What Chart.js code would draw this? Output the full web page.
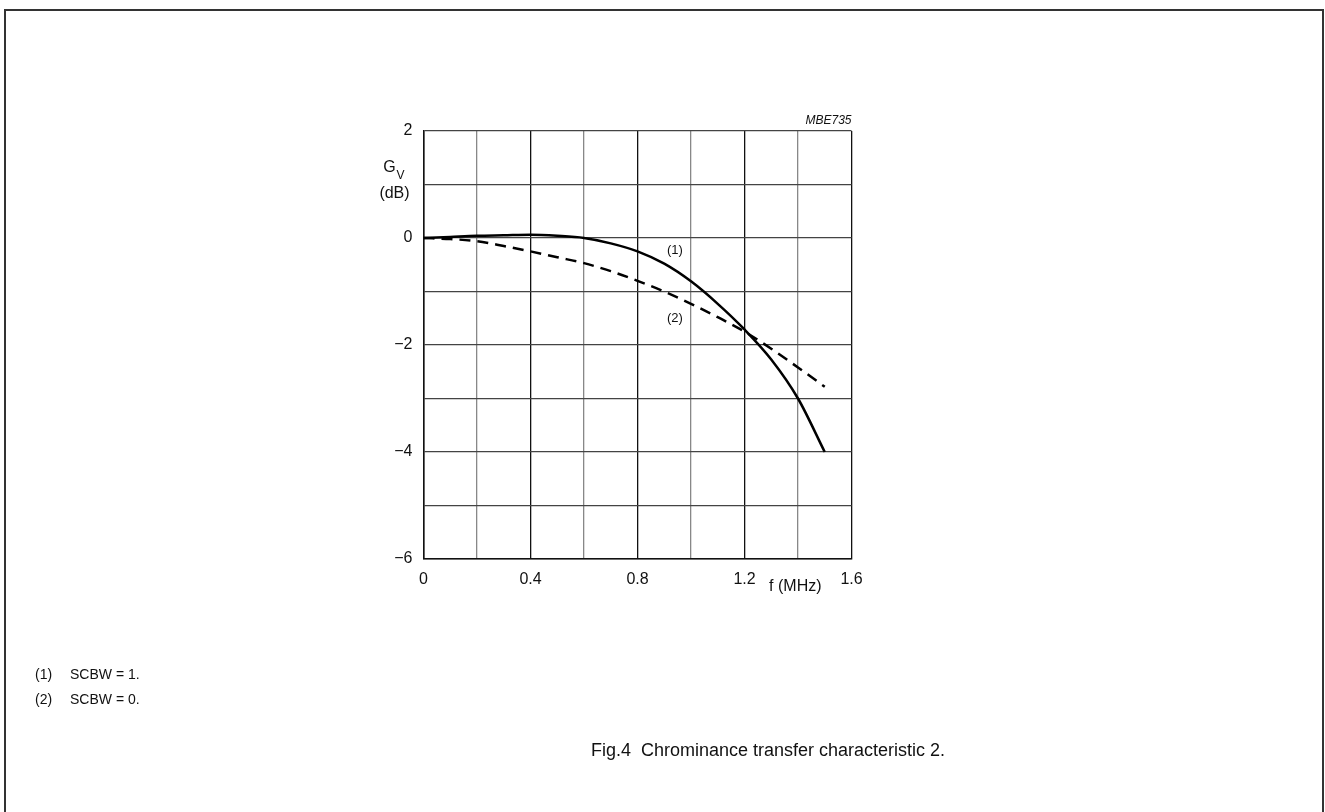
<!DOCTYPE html>
<html>
<head>
<meta charset="utf-8">
<script src="https://cdn.jsdelivr.net/npm/chart.js@4.4.1/dist/chart.umd.min.js"></script>
<style>
  html, body { margin: 0; padding: 0; background: #fff; }
  body { width: 1325px; height: 812px; position: relative; overflow: hidden; font-family: "Liberation Sans", Arial, sans-serif; color: #111; }
  #frame { position: absolute; left: 4px; top: 9px; width: 1320px; height: 820px; border: 2px solid #333; border-bottom: none; box-sizing: border-box; }
  #c { position: absolute; left: 0; top: 0; }
  .note { position: absolute; font-size: 14px; white-space: pre; }
  #title { position: absolute; left: 0; width: 1536px; text-align: center; top: 740px; font-size: 18px; white-space: pre; }
</style>
</head>
<body>
<div id="frame"></div>
<canvas id="c" width="1325" height="812"></canvas>
<div class="note" style="top:666px;left:35px">(1)</div>
<div class="note" style="top:666px;left:70px">SCBW = 1.</div>
<div class="note" style="top:691px;left:35px">(2)</div>
<div class="note" style="top:691px;left:70px">SCBW = 0.</div>
<div id="title">Fig.4  Chrominance transfer characteristic 2.</div>
<script>
// Frequency (MHz)
const freq1 = [0, 0.1, 0.2, 0.3, 0.4, 0.5, 0.6, 0.7, 0.8, 0.9, 1.0, 1.1, 1.2, 1.3, 1.4, 1.5];
// Gain (dB), curve (1) SCBW = 1
const gain1 = [0, 0.02, 0.04, 0.05, 0.06, 0.04, 0, -0.1, -0.25, -0.48, -0.81, -1.23, -1.71, -2.27, -3.0, -4.0];
const freq2 = [0, 0.1, 0.2, 0.3, 0.4, 0.5, 0.6, 0.7, 0.8, 0.9, 1.0, 1.1, 1.2, 1.3, 1.4, 1.5];
// Gain (dB), curve (2) SCBW = 0
const gain2 = [0, -0.02, -0.06, -0.15, -0.25, -0.36, -0.47, -0.62, -0.8, -1.0, -1.23, -1.48, -1.75, -2.07, -2.42, -2.78];

const xTickLabels = ['0', '0.4', '0.8', '1.2', '1.6'];
const yTickLabels = ['\u22126', '\u22124', '\u22122', '0', '2'];

const FONT = '"Liberation Sans", Arial, sans-serif';

const pts = (xs, ys) => xs.map((x, i) => ({ x: x, y: ys[i] }));

const extraText = {
  id: 'extraText',
  afterDraw(chart) {
    const ctx = chart.ctx;
    const a = chart.chartArea;
    const xs = chart.scales.x, ys = chart.scales.y;
    ctx.save();
    ctx.fillStyle = '#111';
    ctx.textBaseline = 'middle';
    // MBE735
    ctx.font = 'italic 12px ' + FONT;
    ctx.textAlign = 'right';
    ctx.fillText('MBE735', a.right, a.top - 10);
    // G_V (dB)
    ctx.textAlign = 'center';
    ctx.font = '16px ' + FONT;
    ctx.fillText('G', a.left - 34, 168);
    ctx.font = '12px ' + FONT;
    ctx.fillText('V', a.left - 23, 176);
    ctx.font = '16px ' + FONT;
    ctx.fillText('(dB)', a.left - 29, 194);
    // f (MHz)
    ctx.fillText('f (MHz)', xs.getPixelForValue(1.39), a.bottom + 28);
    // curve labels
    ctx.font = '13px ' + FONT;
    ctx.fillText('(1)', xs.getPixelForValue(0.94), ys.getPixelForValue(-0.24));
    ctx.fillText('(2)', xs.getPixelForValue(0.94), ys.getPixelForValue(-1.5));
    ctx.restore();
  }
};

new Chart(document.getElementById('c'), {
  type: 'line',
  data: {
    datasets: [
      {
        data: pts(freq1, gain1),
        borderColor: '#000',
        borderWidth: 2.5,
        pointRadius: 0,
        tension: 0.4,
        cubicInterpolationMode: 'monotone',
        fill: false
      },
      {
        data: pts(freq2, gain2),
        borderColor: '#000',
        borderWidth: 2.5,
        borderDash: [11, 7],
        pointRadius: 0,
        tension: 0.4,
        cubicInterpolationMode: 'monotone',
        fill: false
      }
    ]
  },
  options: {
    responsive: false,
    animation: false,
    devicePixelRatio: 1,
    layout: { padding: { left: 363.5, top: 131, right: 473.5, bottom: 213 } },
    plugins: { legend: { display: false }, tooltip: { enabled: false } },
    scales: {
      x: {
        type: 'linear',
        min: 0, max: 1.6,
        afterFit(s) { s.height = 40; },
        ticks: {
          stepSize: 0.2,
          padding: 11,
          maxRotation: 0,
          autoSkip: false,
          color: '#111',
          font: { size: 16, family: FONT },
          callback(v) {
            const k = Math.round(v * 10);
            return k % 4 === 0 ? xTickLabels[k / 4] : '';
          }
        },
        grid: {
          drawTicks: false,
          lineWidth: 1.3,
          color(ctx) {
            const k = Math.round(ctx.tick.value * 10);
            return k % 4 === 2 ? '#888' : '#111';
          }
        },
        border: { display: true, color: '#111', width: 1.5 }
      },
      y: {
        type: 'linear',
        min: -6, max: 2,
        afterFit(s) { s.width = 60; },
        ticks: {
          stepSize: 1,
          padding: 11,
          autoSkip: false,
          color: '#111',
          font: { size: 16, family: FONT },
          callback(v) {
            const k = Math.round(v);
            return k % 2 === 0 ? yTickLabels[(k + 6) / 2] : '';
          }
        },
        grid: {
          drawTicks: false,
          lineWidth: 1.3,
          color: '#444'
        },
        border: { display: true, color: '#111', width: 1.5 }
      }
    }
  },
  plugins: [extraText]
});
</script>
</body>
</html>
